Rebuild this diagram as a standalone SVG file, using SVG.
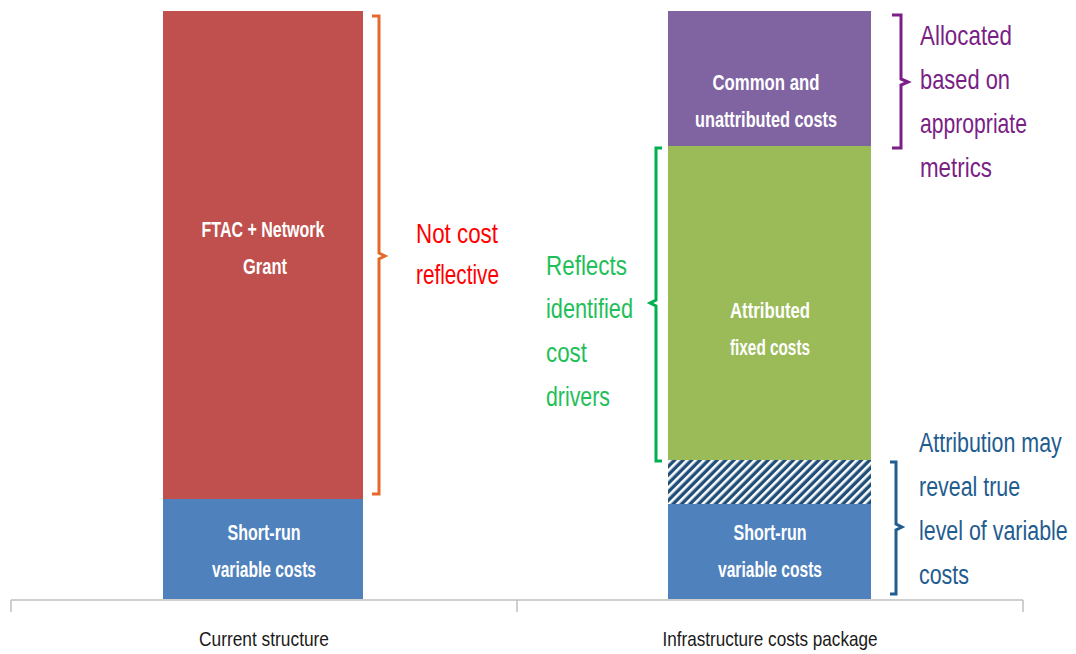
<svg xmlns="http://www.w3.org/2000/svg" width="1076" height="654" viewBox="0 0 1076 654">
<defs>
<pattern id="hatch" patternUnits="userSpaceOnUse" width="6" height="6" patternTransform="rotate(-45)">
<rect width="6" height="6" fill="#1F4E79"/>
<rect x="0" y="0" width="6" height="2.6" fill="#ffffff"/>
</pattern>
<style>
.bt{font-family:"Liberation Sans",Arial,sans-serif;font-weight:bold;font-size:22px;fill:#ffffff;text-anchor:middle}
.ot{font-family:"Liberation Sans",Arial,sans-serif;font-size:28px}
.ax{font-family:"Liberation Sans",Arial,sans-serif;font-size:21px;fill:#1a1a1a;text-anchor:middle}
.br{fill:none;stroke-width:3;stroke-linejoin:miter}
</style>
</defs>
<rect width="1076" height="654" fill="#ffffff"/>
<g id="axis" stroke="#bfbfbf" stroke-width="1.5" fill="none">
<line x1="11" y1="600" x2="1023" y2="600"/>
<line x1="11" y1="600" x2="11" y2="612"/>
<line x1="517" y1="600" x2="517" y2="612"/>
<line x1="1023" y1="600" x2="1023" y2="612"/>
</g>
<g id="bar-current">
<rect id="ftac" x="163" y="11" width="200" height="488" fill="#C0504D"/>
<rect id="shortrun1" x="163" y="499" width="200" height="100" fill="#4F81BD"/>
<text class="bt" x="263" y="237" textLength="123" lengthAdjust="spacingAndGlyphs">FTAC + Network</text>
<text class="bt" x="265" y="274" textLength="44" lengthAdjust="spacingAndGlyphs">Grant</text>
<text class="bt" x="264" y="540" textLength="73" lengthAdjust="spacingAndGlyphs">Short-run</text>
<text class="bt" x="264" y="577" textLength="104" lengthAdjust="spacingAndGlyphs">variable costs</text>
</g>
<g id="bar-package">
<rect id="common" x="668" y="11" width="203" height="135" fill="#8064A2"/>
<rect id="attributed" x="668" y="146" width="203" height="314" fill="#9BBB59"/>
<rect id="hatched" x="668" y="460" width="203" height="44" fill="url(#hatch)"/>
<rect id="shortrun2" x="668" y="504" width="203" height="95" fill="#4F81BD"/>
<text class="bt" x="766" y="90" textLength="107" lengthAdjust="spacingAndGlyphs">Common and</text>
<text class="bt" x="766" y="127" textLength="142" lengthAdjust="spacingAndGlyphs">unattributed  costs</text>
<text class="bt" x="770" y="318" textLength="80" lengthAdjust="spacingAndGlyphs">Attributed</text>
<text class="bt" x="770" y="355" textLength="80" lengthAdjust="spacingAndGlyphs">fixed costs</text>
<text class="bt" x="770" y="540" textLength="73" lengthAdjust="spacingAndGlyphs">Short-run</text>
<text class="bt" x="770" y="577" textLength="104" lengthAdjust="spacingAndGlyphs">variable costs</text>
</g>
<g id="connectors">
<path class="br" stroke="#E8672A" d="M372,16 H379 V253 L385,256 L379,259 V494 H372"/>
<path class="br" stroke="#00B050" d="M662,148 H656 V300 L650,303 L656,306 V461 H662"/>
<path class="br" stroke="#7A1F86" d="M892,15 H901 V79 L908,82 L901,85 V148 H892"/>
<path class="br" stroke="#1F5C8F" d="M890,462 H896 V524 L902,527 L896,530 V594 H890"/>
</g>
<g id="label-notcost" class="ot" fill="#FF0000">
<text x="416" y="243" textLength="82" lengthAdjust="spacingAndGlyphs">Not cost</text>
<text x="416" y="284" textLength="83" lengthAdjust="spacingAndGlyphs">reflective</text>
</g>
<g id="label-reflects" class="ot" fill="#1FBF5A">
<text x="546" y="275" textLength="81" lengthAdjust="spacingAndGlyphs">Reflects</text>
<text x="546" y="318" textLength="87" lengthAdjust="spacingAndGlyphs">identified</text>
<text x="546" y="362" textLength="41" lengthAdjust="spacingAndGlyphs">cost</text>
<text x="546" y="406" textLength="64" lengthAdjust="spacingAndGlyphs">drivers</text>
</g>
<g id="label-allocated" class="ot" fill="#7A1F86">
<text x="920" y="45" textLength="92" lengthAdjust="spacingAndGlyphs">Allocated</text>
<text x="920" y="89" textLength="90" lengthAdjust="spacingAndGlyphs">based on</text>
<text x="920" y="133" textLength="107" lengthAdjust="spacingAndGlyphs">appropriate</text>
<text x="920" y="177" textLength="72" lengthAdjust="spacingAndGlyphs">metrics</text>
</g>
<g id="label-attribution" class="ot" fill="#1F5C8F" transform="translate(919,0) scale(0.765,1)">
<text x="0" y="452">Attribution may</text>
<text x="0" y="496">reveal true</text>
<text x="0" y="540">level of variable</text>
<text x="0" y="584">costs</text>
</g>
<g id="axis-labels">
<text class="ax" x="264" y="646" textLength="130" lengthAdjust="spacingAndGlyphs">Current structure</text>
<text class="ax" x="770" y="646" textLength="215" lengthAdjust="spacingAndGlyphs">Infrastructure costs package</text>
</g>
</svg>
